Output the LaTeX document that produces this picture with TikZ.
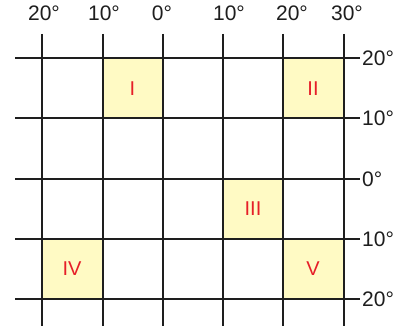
\documentclass[tikz,border=0pt]{standalone}
\usepackage{fontspec}
\setmainfont{Liberation Sans}
\definecolor{cellfill}{RGB}{255,250,196}
\definecolor{numred}{RGB}{230,30,40}
\definecolor{gridline}{RGB}{30,30,30}
\begin{document}
\begin{tikzpicture}[x=1pt,y=-1pt,
  gridstyle/.style={draw=gridline,line width=2pt},
  cellbox/.style={fill=cellfill,draw=none},
  numlabel/.style={text=numred,font=\fontsize{20}{20}\selectfont},
  deglabel/.style={text=gridline,font=\fontsize{21}{21}\selectfont,inner sep=0pt}]
\useasboundingbox (0,0) rectangle (399,328);
% highlighted cells
\fill[cellbox] (102.5,58) rectangle (163,118.5);
\fill[cellbox] (283,58) rectangle (343.5,118.5);
\fill[cellbox] (223,179) rectangle (283,239);
\fill[cellbox] (42,239) rectangle (102.5,299);
\fill[cellbox] (283,239) rectangle (343.5,299);
% grid
\foreach \x in {42,102.5,163,223,283,343.5}
  \draw[gridstyle] (\x,34) -- (\x,326);
\foreach \y in {58,118.5,179,239,299}
  \draw[gridstyle] (15,\y) -- (360,\y);
% roman numerals
\node[numlabel] (nI) at (132.5,88.5) {I};
\node[numlabel] (nII) at (313,88.5) {II};
\node[numlabel] (nIII) at (253,209) {III};
\node[numlabel] (nIV) at (72,269) {IV};
\node[numlabel] (nV) at (313,269) {V};
% top labels
\node[deglabel] (t1) at (44,13) {20°};
\node[deglabel] (t2) at (104,13) {10°};
\node[deglabel] (t3) at (162,13) {0°};
\node[deglabel] (t4) at (229,13) {10°};
\node[deglabel] (t5) at (292,13) {20°};
\node[deglabel] (t6) at (347,13) {30°};
% right labels
\node[deglabel,anchor=west] (r1) at (362,58) {20°};
\node[deglabel,anchor=west] (r2) at (362,118.5) {10°};
\node[deglabel,anchor=west] (r3) at (362,179) {0°};
\node[deglabel,anchor=west] (r4) at (362,239) {10°};
\node[deglabel,anchor=west] (r5) at (362,299) {20°};
\end{tikzpicture}
\end{document}
